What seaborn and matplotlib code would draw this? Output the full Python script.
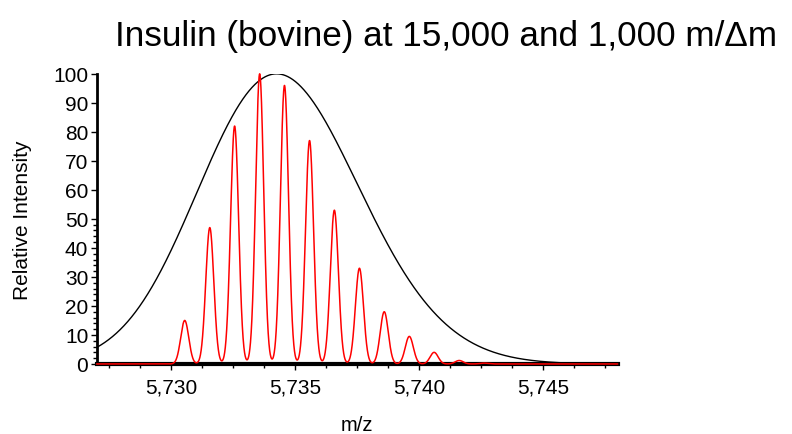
import numpy as np
import pandas as pd
import seaborn as sns
import matplotlib.pyplot as plt
from matplotlib.ticker import MultipleLocator, FixedLocator

# isotope peaks (m/z, relative intensity)
peak_mz = [5730.55, 5731.56, 5732.56, 5733.57, 5734.57, 5735.58, 5736.58,
           5737.59, 5738.59, 5739.60, 5740.60, 5741.61, 5742.61]
peak_height = [15, 47, 82, 100, 96, 77, 53, 33, 18, 9.5, 4, 1.2, 0.3]

# resolving powers from the title
res_high = 15000
res_low = 1000

x_min, x_max = 5727.0, 5748.0
x_ticks = [5730, 5735, 5740, 5745]
x_ticklabels = ['5,730', '5,735', '5,740', '5,745']
y_ticks = list(range(0, 101, 10))


def profile(mz, res):
    # sum of gaussian peaks at the given resolving power (FWHM = m / res)
    out = np.zeros_like(mz)
    for m, h in zip(peak_mz, peak_height):
        sig = m / res / 2.3548
        out += h * np.exp(-0.5 * ((mz - m) / sig) ** 2)
    return out / out.max() * 100


mz = np.linspace(x_min, x_max, 6000)
df = pd.DataFrame({'mz': mz,
                   'high': profile(mz, res_high),
                   'low': profile(mz, res_low)})

sns.set_style('ticks')
plt.rcParams['font.family'] = ['Liberation Sans', 'DejaVu Sans']
plt.rcParams['text.color'] = 'black'
plt.rcParams['axes.labelcolor'] = 'black'
plt.rcParams['xtick.color'] = 'black'
plt.rcParams['ytick.color'] = 'black'

fig = plt.figure(figsize=(7.92, 4.35), dpi=100)
ax = fig.add_axes([0.122, 0.161, 0.658, 0.667])

sns.lineplot(data=df, x='mz', y='low', color='black', lw=1.0, ax=ax,
             estimator=None, sort=False, zorder=3)
sns.lineplot(data=df, x='mz', y='high', color='red', lw=1.1, ax=ax,
             estimator=None, sort=False, zorder=4, clip_on=False)

ax.set_xlim(x_min, x_max)
ax.set_ylim(0, 100)
ax.set_xticks(x_ticks)
ax.set_xticklabels(x_ticklabels)
ax.xaxis.set_minor_locator(MultipleLocator(1.25))
ax.set_yticks(y_ticks)
ax.yaxis.set_minor_locator(FixedLocator(list(range(0, 51, 2))))

ax.tick_params(axis='both', which='major', labelsize=15, length=4, width=1)
ax.tick_params(axis='both', which='minor', length=3, width=1)
ax.tick_params(axis='x', which='major', pad=6)
ax.tick_params(axis='y', which='major', pad=2)

ax.set_xlabel('m/z', fontsize=14.5, labelpad=13)
ax.set_ylabel('Relative Intensity', fontsize=15, labelpad=15)

sns.despine(ax=ax)
ax.spines['left'].set_linewidth(2)
ax.spines['bottom'].set_linewidth(3)
ax.spines['left'].set_color('black')
ax.spines['bottom'].set_color('black')

fig.text(0.145, 0.915, 'Insulin (bovine) at 15,000 and 1,000 m/\u0394m',
         fontsize=25.3, ha='left', va='center')

fig.savefig('out.png', dpi=100, facecolor='white')
